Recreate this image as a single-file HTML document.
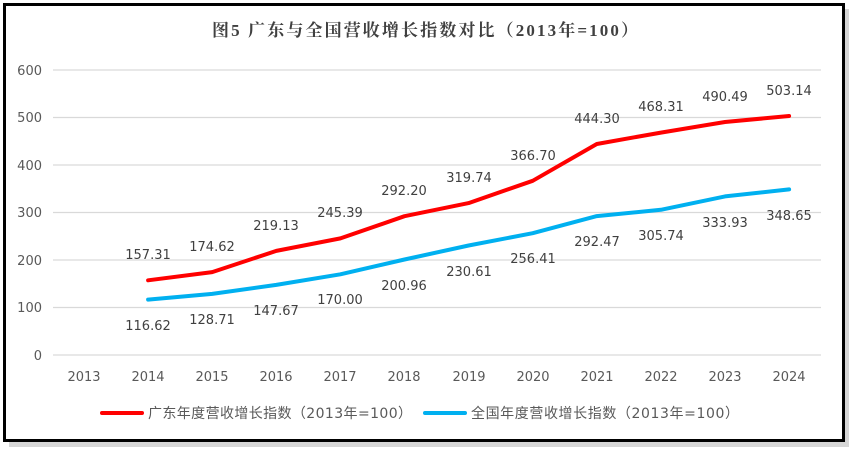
<!DOCTYPE html>
<html><head><meta charset="utf-8"><style>
html,body{margin:0;padding:0;background:#fff;}
svg{display:block;font-family:"DejaVu Sans","Noto Sans CJK SC",sans-serif;}
</style></head><body>
<svg width="855" height="453" viewBox="0 0 855 453">
<rect x="0" y="0" width="855" height="453" fill="#fff"/>
<rect x="9" y="9" width="840" height="438" fill="#bbb" opacity="0.6"/>
<rect x="4.5" y="4.5" width="839" height="436" fill="#fff" stroke="#000" stroke-width="3"/>
<text x="212" y="36" font-size="17" font-weight="bold" fill="#404040" textLength="426" style="font-family:'Liberation Serif','Noto Serif CJK SC',serif">图5  广东与全国营收增长指数对比（2013年=100）</text>
<g stroke="#d9d9d9" stroke-width="1.2">
<line x1="53" y1="70" x2="821" y2="70"/>
<line x1="53" y1="117.5" x2="821" y2="117.5"/>
<line x1="53" y1="165" x2="821" y2="165"/>
<line x1="53" y1="212.5" x2="821" y2="212.5"/>
<line x1="53" y1="260" x2="821" y2="260"/>
<line x1="53" y1="307.5" x2="821" y2="307.5"/>
<line x1="53" y1="355" x2="821" y2="355"/>
</g>
<g font-size="13" fill="#595959" text-anchor="end">
<text x="42" y="75">600</text><text x="42" y="122">500</text><text x="42" y="170">400</text><text x="42" y="217">300</text><text x="42" y="265">200</text><text x="42" y="312">100</text><text x="42" y="360">0</text>
</g>
<g font-size="13" fill="#595959" text-anchor="middle">
<text x="84" y="381">2013</text><text x="148" y="381">2014</text><text x="212" y="381">2015</text><text x="276" y="381">2016</text><text x="340" y="381">2017</text><text x="404" y="381">2018</text><text x="469" y="381">2019</text><text x="533" y="381">2020</text><text x="597" y="381">2021</text><text x="661" y="381">2022</text><text x="725" y="381">2023</text><text x="789" y="381">2024</text>
</g>
<polyline fill="none" stroke="#ff0000" stroke-width="4" stroke-linejoin="round" stroke-linecap="round" points="148.1,280.3 212.2,272.1 276.3,250.9 340.4,238.4 404.5,216.2 468.6,203.1 532.7,180.8 596.8,144 660.9,132.6 725,122 789.1,116"/>
<polyline fill="none" stroke="#00b0f0" stroke-width="4" stroke-linejoin="round" stroke-linecap="round" points="148.1,299.6 212.2,293.9 276.3,284.9 340.4,274.3 404.5,259.5 468.6,245.5 532.7,233.2 596.8,216.1 660.9,209.8 725,196.4 789.1,189.4"/>
<g font-size="13" fill="#404040" text-anchor="middle">
<text x="148" y="259">157.31</text><text x="212" y="251">174.62</text><text x="276" y="230">219.13</text><text x="340" y="217">245.39</text><text x="404" y="195">292.20</text><text x="469" y="182">319.74</text><text x="533" y="160">366.70</text><text x="597" y="123">444.30</text><text x="661" y="111">468.31</text><text x="725" y="101">490.49</text><text x="789" y="95">503.14</text>
<text x="148" y="330">116.62</text><text x="212" y="324">128.71</text><text x="276" y="315">147.67</text><text x="340" y="304">170.00</text><text x="404" y="290">200.96</text><text x="469" y="276">230.61</text><text x="533" y="263">256.41</text><text x="597" y="246">292.47</text><text x="661" y="240">305.74</text><text x="725" y="227">333.93</text><text x="789" y="220">348.65</text>
</g>
<line x1="102" y1="413" x2="142" y2="413" stroke="#ff0000" stroke-width="4" stroke-linecap="round"/>
<text x="148" y="418" font-size="14" fill="#595959" textLength="264">广东年度营收增长指数（2013年=100）</text>
<line x1="425" y1="413" x2="465" y2="413" stroke="#00b0f0" stroke-width="4" stroke-linecap="round"/>
<text x="471" y="418" font-size="14" fill="#595959" textLength="268">全国年度营收增长指数（2013年=100）</text>
</svg>
</body></html>
